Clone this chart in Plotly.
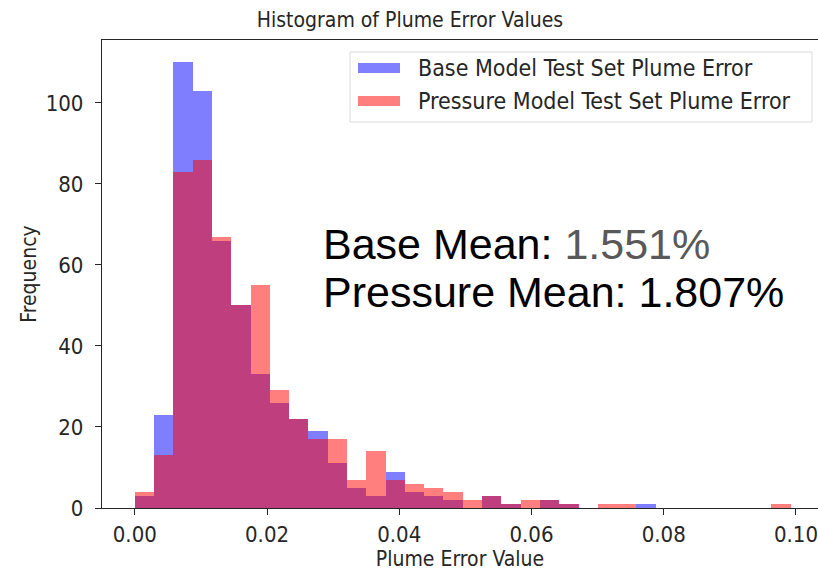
import numpy as np
import plotly.graph_objects as go

# Shared histogram bins for both error distributions
BIN_START = 0.0
BIN_END = 0.0992
N_BINS = 34

# Counts per bin (500 test samples per model)
base_counts = [3, 23, 110, 103, 66, 50, 33, 26, 22, 19,
               11, 5, 3, 9, 4, 3, 2, 0, 3, 1,
               0, 2, 1, 0, 0, 0, 1, 0, 0, 0,
               0, 0, 0, 0]
pressure_counts = [4, 13, 83, 86, 67, 50, 55, 29, 22, 17,
                   17, 7, 14, 7, 6, 5, 4, 2, 3, 1,
                   2, 2, 1, 0, 1, 1, 0, 0, 0, 0,
                   0, 0, 0, 1]

series_names = ["Base Model Test Set Plume Error",
                "Pressure Model Test Set Plume Error"]
mean_labels = ["Base Mean: ", "Pressure Mean: "]
mean_values = ["1.551%", "1.807%"]

x_ticks = [0.00, 0.02, 0.04, 0.06, 0.08, 0.10]
y_ticks = [0, 20, 40, 60, 80, 100]

edges = np.linspace(BIN_START, BIN_END, N_BINS + 1)
centers = (edges[:-1] + edges[1:]) / 2
width = edges[1] - edges[0]

W, H = 818, 576
L, R, T, B = 102, 0, 40, 68
plot_w = W - L - R
plot_h = H - T - B

FONT = "DejaVu Sans Condensed, DejaVu Sans"
AXIS_COLOR = "#262626"
TICK_SIZE = 22
LABEL_SIZE = 21
LEGEND_SIZE = 23

fig = go.Figure()
for counts, color, name in [(base_counts, "blue", series_names[0]),
                            (pressure_counts, "red", series_names[1])]:
    fig.add_trace(go.Bar(
        x=centers, y=counts, width=width, name=name,
        marker=dict(color=color, line=dict(width=0)),
        opacity=0.5, showlegend=False,
    ))

y_max = max(max(base_counts), max(pressure_counts)) * 1.05
x_margin = (BIN_END - BIN_START) * 0.05
x_lo = BIN_START - x_margin
x_hi = x_lo + (BIN_END - BIN_START + 2 * x_margin) * plot_w / (plot_w + 5.5)


def px_x(p):
    return (p - L) / plot_w


def px_y(p):
    return (T + plot_h - p) / plot_h


shapes = []
annotations = []

# Legend box with the two colour patches
shapes.append(dict(type="rect", xref="paper", yref="paper",
                   x0=px_x(350), x1=px_x(812), y0=px_y(122), y1=px_y(52),
                   line=dict(color="#dadada", width=1),
                   fillcolor="rgba(255,255,255,0.85)", layer="above"))
legend_rows = [68, 101]
patch_colors = ["rgba(0,0,255,0.5)", "rgba(255,0,0,0.5)"]
for row, col, name in zip(legend_rows, patch_colors, series_names):
    shapes.append(dict(type="rect", xref="paper", yref="paper",
                       x0=px_x(358), x1=px_x(400),
                       y0=px_y(row + 5), y1=px_y(row - 5),
                       line=dict(width=0), fillcolor=col, layer="above"))
    annotations.append(dict(xref="paper", yref="paper", x=px_x(416), y=px_y(row),
                            xanchor="left", yanchor="middle", showarrow=False,
                            text=name, font=dict(family=FONT, size=LEGEND_SIZE, color="#262626")))

# Mean value call-outs
for row, lab, val, vcol in zip([244, 292], mean_labels, mean_values, ["#595959", "#000000"]):
    annotations.append(dict(xref="paper", yref="paper", x=px_x(321), y=px_y(row),
                            xanchor="left", yanchor="middle", showarrow=False,
                            text=f"{lab}<span style='color:{vcol}'>{val}</span>",
                            font=dict(family="Liberation Sans, Arial", size=43, color="#000000")))

fig.update_layout(
    width=W, height=H,
    margin=dict(l=L, r=R, t=T, b=B, pad=0),
    paper_bgcolor="white", plot_bgcolor="white",
    barmode="overlay", bargap=0,
    font=dict(family=FONT, size=TICK_SIZE, color="#262626"),
    title=dict(text="Histogram of Plume Error Values", xref="container", x=410 / W,
               xanchor="center", yref="container", y=1 - 20 / H, yanchor="middle",
               font=dict(family=FONT, size=21, color="#262626")),
    xaxis=dict(range=[x_lo, x_hi], tickvals=x_ticks, tickformat=".2f",
               showgrid=False, zeroline=False, showline=True, mirror=True,
               linecolor=AXIS_COLOR, linewidth=1.3, ticks="outside", ticklen=6,
               tickcolor=AXIS_COLOR, tickwidth=1.3, ticklabelstandoff=0,
               ticklabeloverflow="allow",
               title=dict(text="Plume Error Value", standoff=2,
                          font=dict(family=FONT, size=LABEL_SIZE)),
               tickfont=dict(family=FONT, size=TICK_SIZE)),
    yaxis=dict(range=[0, y_max], tickvals=y_ticks,
               showgrid=False, zeroline=False, showline=True,
               linecolor=AXIS_COLOR, linewidth=1.3, ticks="outside", ticklen=6,
               tickcolor=AXIS_COLOR, tickwidth=1.3, ticklabelstandoff=7,
               title=dict(text="Frequency", standoff=3,
                          font=dict(family=FONT, size=LABEL_SIZE)),
               tickfont=dict(family=FONT, size=TICK_SIZE)),
    shapes=shapes,
    annotations=annotations,
)

fig.write_html("out.html")
